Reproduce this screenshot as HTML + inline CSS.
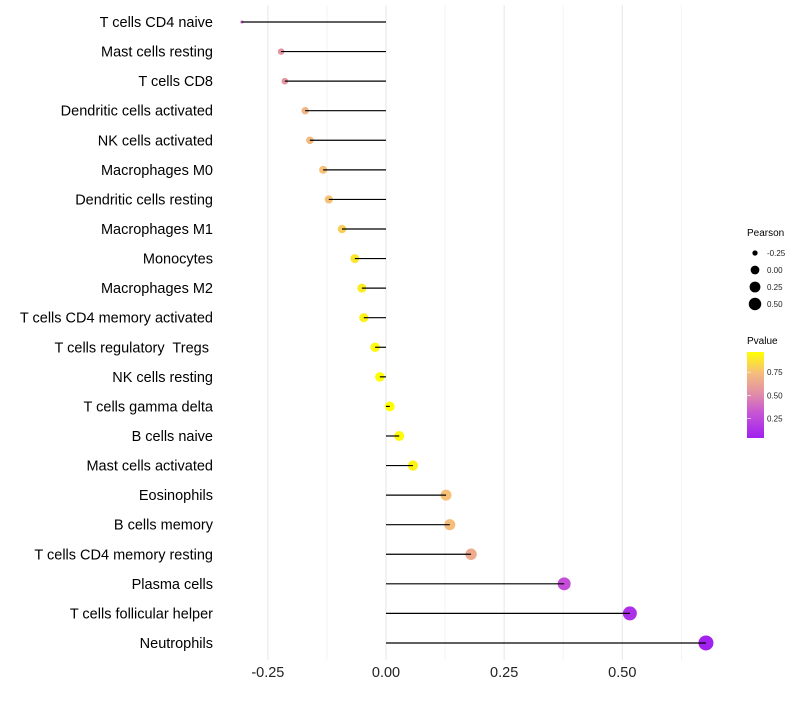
<!DOCTYPE html>
<html><head><meta charset="utf-8"><style>
body{margin:0;background:#fff;font-family:"Liberation Sans",sans-serif}
text{white-space:pre}
</style></head><body>
<svg id="chart" width="800" height="700" xmlns="http://www.w3.org/2000/svg" font-family="Liberation Sans, sans-serif" xml:space="preserve">
<defs><linearGradient id="pg" x1="0" y1="1" x2="0" y2="0">
<stop offset="0" stop-color="#A020F0"/><stop offset="0.3" stop-color="#C857D4"/><stop offset="0.5" stop-color="#E08BAA"/><stop offset="0.75" stop-color="#F5BC7E"/><stop offset="1" stop-color="#FFFF00"/></linearGradient></defs>
<g id="grid"></g><g id="marks"></g><g id="ylabels"></g><g id="xlabels"></g>
<g>
<text x="747" y="236" font-size="10">Pearson</text>
<g id="sizeleg"></g>
<text x="747" y="344" font-size="10">Pvalue</text>
<rect x="747" y="352" width="17" height="86" fill="url(#pg)"/>
<g id="colleg"></g>
</g>
</svg>
<script>
const cells=["T cells CD4 naive","Mast cells resting","T cells CD8","Dendritic cells activated","NK cells activated","Macrophages M0","Dendritic cells resting","Macrophages M1","Monocytes","Macrophages M2","T cells CD4 memory activated","T cells regulatory  Tregs ","NK cells resting","T cells gamma delta","B cells naive","Mast cells activated","Eosinophils","B cells memory","T cells CD4 memory resting","Plasma cells","T cells follicular helper","Neutrophils"];
const pearson=[-0.305,-0.222,-0.214,-0.171,-0.161,-0.133,-0.121,-0.093,-0.066,-0.051,-0.047,-0.023,-0.013,0.008,0.028,0.057,0.127,0.135,0.180,0.377,0.516,0.677];
const pvalue=[0.35,0.55,0.55,0.7,0.72,0.75,0.75,0.8,0.88,0.9,0.92,0.95,0.96,0.97,0.95,0.92,0.75,0.74,0.65,0.28,0.12,0.05];
const xticks=[-0.25,0,0.25,0.5];
const xtickLabels=["-0.25","0.00","0.25","0.50"];
const sizeLegVals=[-0.25,0,0.25,0.5];
const sizeLegLabels=["-0.25","0.00","0.25","0.50"];
const colLegVals=[0.25,0.5,0.75];
const colLegLabels=["0.25","0.50","0.75"];
const NS="http://www.w3.org/2000/svg";
const X=v=>386+v*472.6;
const Y=i=>22+i*29.57;
const R=v=>1.5+6*Math.sqrt(Math.max(0,(v+0.305)/0.982));
const stops=[[0,[160,32,240]],[0.3,[200,87,212]],[0.5,[224,139,170]],[0.75,[245,188,126]],[1,[255,255,0]]];
function col(p){let t=(p-0.04)/(0.967-0.04);t=Math.max(0,Math.min(1,t));
for(let i=1;i<stops.length;i++){if(t<=stops[i][0]){const a=stops[i-1],b=stops[i];const f=(t-a[0])/(b[0]-a[0]);
const c=a[1].map((v,k)=>Math.round(v+(b[1][k]-v)*f));return `rgb(${c})`;}}return "rgb(255,255,0)";}
function mk(tag,attrs,parent){const e=document.createElementNS(NS,tag);for(const k in attrs)e.setAttribute(k,attrs[k]);document.getElementById(parent).appendChild(e);return e;}
[-0.125,0.125,0.375,0.625].forEach(v=>{const l=mk("line",{x1:X(v),x2:X(v),y1:5,y2:660,stroke:"#f0f0f0","stroke-width":0.8},"grid");

});
xticks.forEach((v,i)=>{const l=mk("line",{x1:X(v),x2:X(v),y1:5,y2:660,stroke:"#e6e6e6","stroke-width":1},"grid");


const t=mk("text",{x:X(v),y:677,"font-size":14.5,"text-anchor":"middle",fill:"#222"},"xlabels");t.textContent=xtickLabels[i];

});
cells.forEach((c,i)=>{const y=Y(i);
const d=mk("circle",{cx:X(pearson[i]),cy:y,r:R(pearson[i]),fill:col(pvalue[i])},"marks");


const l=mk("line",{x1:X(0),x2:X(pearson[i]),y1:y,y2:y,stroke:"#000","stroke-width":1.2},"marks");


const t=mk("text",{x:213,y:y+5,"font-size":14.5,"text-anchor":"end",fill:"#000"},"ylabels");t.textContent=c;

});
sizeLegVals.forEach((v,i)=>{const y=253+i*17;
const c=mk("circle",{cx:755,cy:y,r:R(v)*0.9,fill:"#000"},"sizeleg");


const t=mk("text",{x:767,y:y+3,"font-size":8,fill:"#222"},"sizeleg");t.textContent=sizeLegLabels[i];

});
colLegVals.forEach((v,i)=>{const y=352+(0.967-v)/(0.967-0.04)*86;
const t=mk("text",{x:767,y:y+3,"font-size":8,fill:"#222"},"colleg");t.textContent=colLegLabels[i];


const k=mk("line",{x1:747,x2:751,y1:y,y2:y,stroke:"#fff","stroke-width":0.6},"colleg");

});
</script>
</body></html>
